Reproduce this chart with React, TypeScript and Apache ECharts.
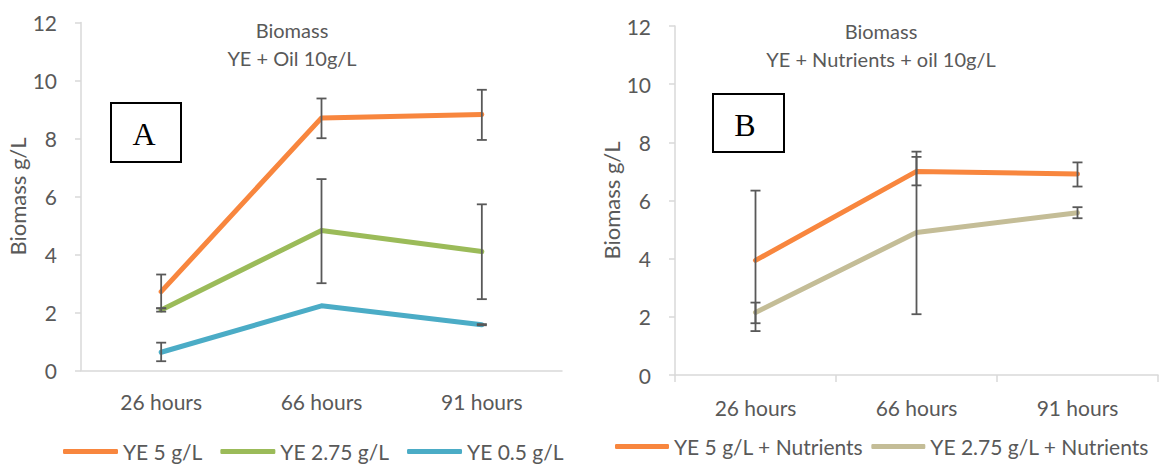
import React, { useEffect, useRef } from "react";
import * as echarts from "echarts";

const categories = ["26 hours", "66 hours", "91 hours"];

// Panel A: YE + Oil 10g/L
const ye5 = [2.72, 8.71, 8.83];
const ye5Low = [2.14, 8.01, 7.95];
const ye5High = [3.31, 9.38, 9.68];

const ye275 = [2.09, 4.83, 4.1];
const ye275Low = [2.03, 3.01, 2.46];
const ye275High = [2.15, 6.6, 5.73];

const ye05 = [0.63, 2.23, 1.58];
const ye05Low = [0.32, 2.23, 1.56];
const ye05High = [0.96, 2.23, 1.6];

// Panel B: YE + Nutrients + oil 10g/L
const ye5N = [3.94, 7.0, 6.91];
const ye5NLow = [1.51, 6.52, 6.48];
const ye5NHigh = [6.34, 7.68, 7.31];

const ye275N = [2.15, 4.9, 5.58];
const ye275NLow = [1.78, 2.09, 5.39];
const ye275NHigh = [2.49, 7.5, 5.77];

const seriesNamesA = ["YE 5 g/L", "YE 2.75 g/L", "YE 0.5 g/L"];
const seriesNamesB = ["YE 5 g/L + Nutrients", "YE 2.75 g/L + Nutrients"];

const ORANGE = "#F8863E";
const GREEN = "#9BBB59";
const BLUE = "#4BACC6";
const TAN = "#C4BD97";
const TEXT = "#595959";
const AXIS = "#D9D9D9";
const FONT = "Lato";

const errData = (low: number[], high: number[]) =>
  low.map((l, i) => [i, l, high[i]]);

const renderErr = (params: any, api: any) => {
  const x = api.value(0);
  const lo = api.coord([x, api.value(1)]);
  const hi = api.coord([x, api.value(2)]);
  if (Math.abs(lo[1] - hi[1]) < 0.5) return null;
  const hw = 5;
  const style = { stroke: "#595959", lineWidth: 1.8, fill: "none" };
  return {
    type: "group",
    children: [
      { type: "line", shape: { x1: hi[0], y1: hi[1], x2: lo[0], y2: lo[1] }, style },
      { type: "line", shape: { x1: hi[0] - hw, y1: hi[1], x2: hi[0] + hw, y2: hi[1] }, style },
      { type: "line", shape: { x1: lo[0] - hw, y1: lo[1], x2: lo[0] + hw, y2: lo[1] }, style },
    ],
  };
};

const lineSeries = (name: string, data: number[], color: string, idx: number) => ({
  type: "line",
  name,
  data,
  xAxisIndex: idx,
  yAxisIndex: idx,
  symbol: "none",
  color,
  lineStyle: { width: 5, color, cap: "round", join: "round" },
  itemStyle: { color },
  z: 2,
});

const errSeries = (low: number[], high: number[], idx: number) => ({
  type: "custom",
  xAxisIndex: idx,
  yAxisIndex: idx,
  data: errData(low, high),
  encode: { x: 0, y: [1, 2] },
  renderItem: renderErr,
  z: 3,
  silent: true,
});

const yAxisBase = (idx: number) => ({
  type: "value",
  gridIndex: idx,
  min: 0,
  max: 12,
  interval: 2,
  name: "Biomass g/L",
  nameLocation: "middle",
  nameGap: 47,
  nameTextStyle: { fontFamily: FONT, fontSize: 22, color: TEXT },
  axisLine: { show: true, lineStyle: { color: AXIS, width: 1.5 } },
  axisTick: { show: true, length: 6, lineStyle: { color: AXIS, width: 1.5 } },
  splitLine: { show: false },
  axisLabel: { fontFamily: FONT, fontSize: 21, color: TEXT, margin: 24 },
});

const xAxisBase = (idx: number, ticks: boolean, margin: number) => ({
  type: "category",
  gridIndex: idx,
  data: categories,
  boundaryGap: true,
  axisLine: { show: true, lineStyle: { color: AXIS, width: 1.5 } },
  axisTick: { show: ticks, length: 7, lineStyle: { color: AXIS, width: 1.5 } },
  axisLabel: { fontFamily: FONT, fontSize: 21, color: TEXT, margin },
});

export default function App() {
  const ref = useRef<HTMLDivElement>(null);
  useEffect(() => {
    if (!ref.current) return;
    const chart = echarts.init(ref.current, undefined, { renderer: "svg" });
    chart.setOption({
      animation: false,
      backgroundColor: "#FFFFFF",
      title: [
        {
          text: "Biomass\nYE + Oil 10g/L",
          left: 292,
          top: 16,
          textAlign: "center",
          padding: 0,
          textStyle: { fontFamily: FONT, fontSize: 20, fontWeight: "normal", color: TEXT, lineHeight: 28 },
        },
        {
          text: "Biomass\nYE + Nutrients + oil 10g/L",
          left: 881,
          top: 17,
          textAlign: "center",
          padding: 0,
          textStyle: { fontFamily: FONT, fontSize: 20, fontWeight: "normal", color: TEXT, lineHeight: 28 },
        },
      ],
      grid: [
        { left: 81, top: 22.5, width: 481, height: 348, containLabel: false },
        { left: 675, top: 26, width: 483, height: 349, containLabel: false },
      ],
      xAxis: [xAxisBase(0, false, 20), xAxisBase(1, true, 22)],
      yAxis: [yAxisBase(0), yAxisBase(1)],
      legend: [
        {
          data: seriesNamesA,
          left: 63,
          top: 441,
          padding: 0,
          icon: "roundRect",
          itemWidth: 55,
          itemHeight: 5,
          itemGap: 18,
          textStyle: { fontFamily: FONT, fontSize: 21, color: TEXT },
        },
        {
          data: seriesNamesB,
          left: 615,
          top: 436,
          padding: 0,
          icon: "roundRect",
          itemWidth: 54,
          itemHeight: 5,
          itemGap: 8,
          textStyle: { fontFamily: FONT, fontSize: 21, color: TEXT },
        },
      ],
      graphic: [
        {
          type: "rect",
          shape: { x: 111, y: 103, width: 70, height: 59 },
          style: { fill: "#FFFFFF", stroke: "#000000", lineWidth: 2 },
          z: 10,
        },
        {
          type: "text",
          x: 144,
          y: 134,
          style: {
            text: "A",
            fontFamily: "Liberation Serif",
            fontSize: 32,
            fill: "#000000",
            align: "center",
            verticalAlign: "middle",
          },
          z: 11,
        },
        {
          type: "rect",
          shape: { x: 713, y: 94, width: 71, height: 58 },
          style: { fill: "#FFFFFF", stroke: "#000000", lineWidth: 2 },
          z: 10,
        },
        {
          type: "text",
          x: 745,
          y: 125,
          style: {
            text: "B",
            fontFamily: "Liberation Serif",
            fontSize: 32,
            fill: "#000000",
            align: "center",
            verticalAlign: "middle",
          },
          z: 11,
        },
      ],
      series: [
        lineSeries(seriesNamesA[0], ye5, ORANGE, 0),
        lineSeries(seriesNamesA[1], ye275, GREEN, 0),
        lineSeries(seriesNamesA[2], ye05, BLUE, 0),
        errSeries(ye5Low, ye5High, 0),
        errSeries(ye275Low, ye275High, 0),
        errSeries(ye05Low, ye05High, 0),
        lineSeries(seriesNamesB[0], ye5N, ORANGE, 1),
        lineSeries(seriesNamesB[1], ye275N, TAN, 1),
        errSeries(ye5NLow, ye5NHigh, 1),
        errSeries(ye275NLow, ye275NHigh, 1),
      ],
    });
    return () => chart.dispose();
  }, []);
  return (
    <div
      ref={ref}
      style={{ position: "fixed", left: 0, top: 0, width: 1159, height: 464, background: "#fff" }}
    />
  );
}
